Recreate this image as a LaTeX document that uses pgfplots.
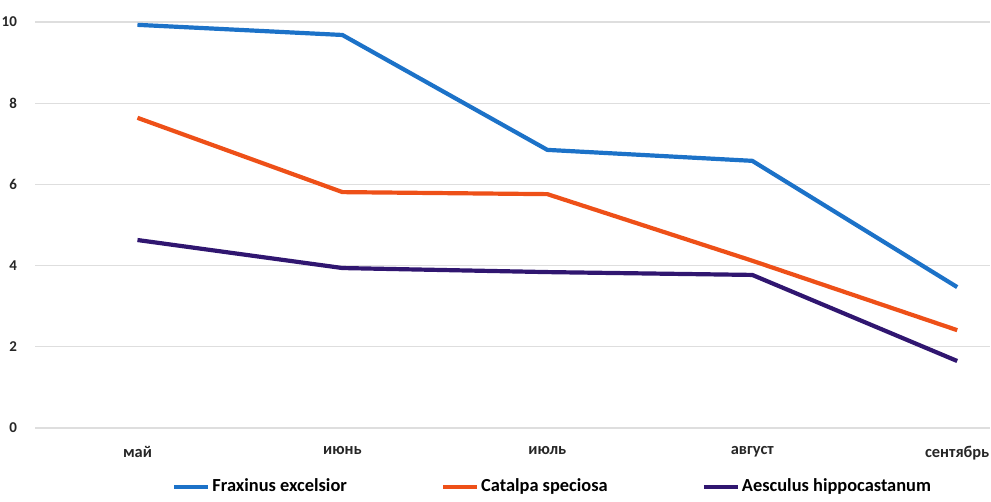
\documentclass[border=0pt]{standalone}
\usepackage{pgfplots}
\pgfplotsset{compat=1.18}
\usepackage{fontspec}
\setmainfont{Carlito}
\definecolor{cblue}{RGB}{28,114,200}
\definecolor{corange}{RGB}{238,80,24}
\definecolor{cpurple}{RGB}{48,22,112}
\definecolor{cgrid}{RGB}{222,222,222}
\begin{document}
\begin{tikzpicture}
\begin{axis}[
  scale only axis,
  width=477.5pt, height=203pt,
  at={(0,0)}, anchor=south west,
  xmin=-0.5, xmax=4.16,
  ymin=0, ymax=10,
  ytick={0,2,...,10},
  xtick={0,1,2,3,4},
  xticklabels={май,июнь,июль,август,сентябрь},
  axis line style={draw=none},
  major tick length=0pt,
  ymajorgrids,
  grid style={cgrid, line width=0.6pt},
  tick label style={text=black!85},
  yticklabel style={font=\fontsize{7.5}{9}\selectfont\bfseries, xshift=-5.5pt},
  xticklabel style={font=\fontsize{8.2}{9}\selectfont\bfseries, yshift=-5.5pt},
  /pgf/number format/assume math mode=true,
  legend columns=3,
  legend style={draw=none, at={(0.542,-0.145)}, anchor=center,
    font=\fontsize{9.2}{11}\selectfont\bfseries, inner sep=0pt,
    nodes={inner xsep=1pt},
    /tikz/every even column/.append style={column sep=46pt}},
  legend image code/.code={\draw[#1] plot coordinates {(0pt,0pt) (17pt,0pt)};},
  clip=false,
]
\addplot[cblue, line width=2.1pt] coordinates {(0,9.93) (1,9.68) (2,6.85) (3,6.58) (4,3.47)};
\addlegendentry{Fraxinus excelsior}
\addplot[corange, line width=2.1pt] coordinates {(0,7.64) (1,5.81) (2,5.76) (3,4.12) (4,2.41)};
\addlegendentry{Catalpa speciosa}
\addplot[cpurple, line width=2.1pt] coordinates {(0,4.63) (1,3.94) (2,3.84) (3,3.77) (4,1.65)};
\addlegendentry{Aesculus hippocastanum}
\end{axis}
\pgfresetboundingbox
\path (-17.5pt,-37pt) rectangle (478pt,214pt);
\end{tikzpicture}
\end{document}
